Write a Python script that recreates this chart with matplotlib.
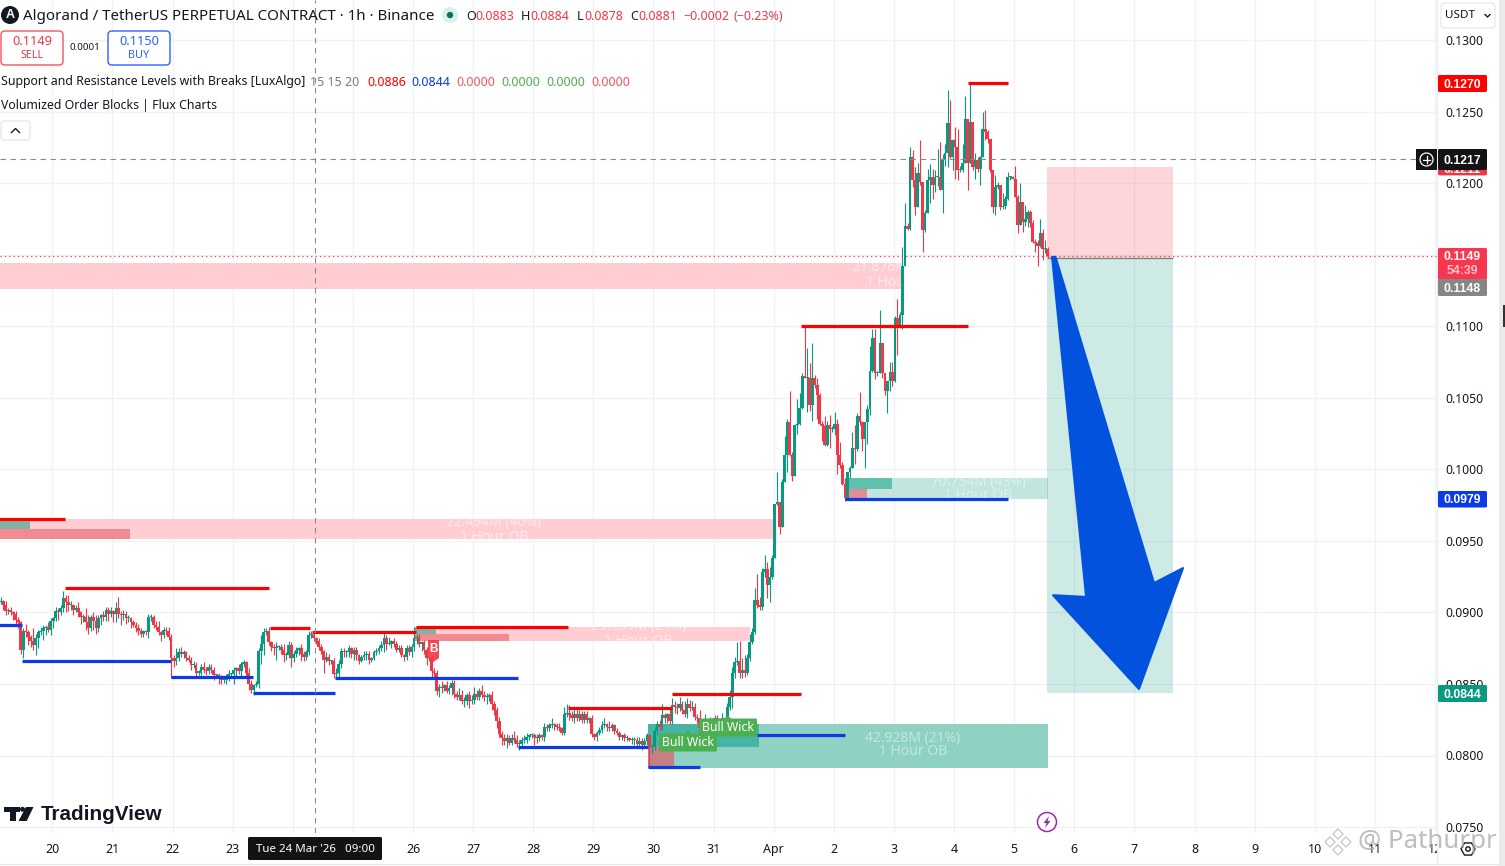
import numpy as np
import matplotlib
matplotlib.use("Agg")
import matplotlib.pyplot as plt
from matplotlib.patches import Rectangle, FancyBboxPatch, Circle, Polygon
from matplotlib.transforms import Bbox

plt.rcParams["font.family"] = ["Noto Sans", "DejaVu Sans"]

W, H = 1505, 866
GREEN = "#089981"
RED = "#f23645"
LINE_RED = "#ff0000"
LINE_BLUE = "#0a3be6"
GRID = "#f1f2f5"
TEXT = "#131722"

# ALGO/USDT 1h candles, prices in 0.0001 ticks, one line per day
closes = [
    907,908,905,901,902,900,899,895,893,874,887,886,883,880,877,882,886,887,889,890,888,
    894,896,901,900,903,910,907,905,905,902,903,900,897,897,893,889,897,894,889,896,898,897,902,899,
    901,899,903,899,898,899,896,896,893,891,889,887,885,887,886,897,897,891,890,886,884,888,887,883,
    868,866,868,872,871,872,868,867,863,863,858,858,862,860,859,862,860,856,856,855,853,853,855,857,
    857,860,861,859,864,865,858,850,846,849,850,873,878,886,887,879,876,875,876,876,874,870,870,877,
    868,871,874,875,871,869,872,884,884,882,880,876,873,867,869,866,866,857,858,864,873,872,872,875,
    871,874,870,866,869,870,871,867,868,872,873,875,877,882,878,878,880,878,874,875,870,869,875,872,
    876,882,883,878,879,874,868,868,859,858,845,848,847,849,845,847,851,843,841,842,838,838,842,838,
    839,843,841,845,842,841,841,842,836,832,824,815,812,810,812,809,812,811,808,808,811,811,813,814,
    814,813,812,814,813,820,819,821,822,821,820,819,816,829,830,828,826,829,826,829,825,829,825,826,
    815,813,816,818,821,822,820,819,821,817,816,813,814,812,812,811,811,811,808,810,807,810,814,806,
    806,817,822,820,828,826,829,824,835,834,833,836,832,829,836,833,834,827,826,819,817,822,819,824,
    820,826,824,820,826,825,834,841,858,865,866,858,860,858,868,879,886,909,905,904,928,930,919,925,
    938,976,977,960,991,1010,1033,1010,995,1031,1032,1043,1065,1064,1064,1045,1064,1059,1052,1032,1030,1017,1031,1028,
    1028,1032,1010,1003,990,980,998,1001,1015,1014,1037,1033,1021,1033,1042,1069,1092,1067,1067,1088,1067,1055,1062,1068,
    1062,1106,1100,1108,1142,1170,1168,1218,1202,1183,1207,1201,1167,1179,1202,1204,1199,1204,1204,1195,1217,1221,1242,1218,
    1230,1225,1209,1209,1214,1245,1214,1243,1211,1216,1210,1218,1238,1236,1231,1209,1183,1197,1199,1183,1184,1189,1204,1204,
    1203,1190,1171,1187,1173,1175,1180,1172,1159,1158,1156,1165,1154,1154,1149,
]
# wick lengths above and below the body, in ticks
wick_up = [
    2,3,1,3,1,2,1,2,2,1,2,5,2,1,9,3,2,3,2,1,3,
    2,1,3,2,2,5,2,5,3,1,2,4,1,2,6,5,1,3,4,2,1,3,2,2,
    3,1,4,8,2,3,2,2,1,2,2,3,2,1,1,2,2,1,3,4,1,2,2,3,
    2,2,7,3,4,2,1,2,2,3,2,2,2,3,2,2,2,2,1,2,1,2,2,3,
    1,2,1,3,1,2,1,3,3,1,2,2,6,3,2,3,1,2,3,1,2,4,2,3,
    2,2,2,1,3,2,2,3,3,2,1,2,2,1,3,2,1,2,3,3,2,2,2,2,
    1,2,2,1,1,3,2,2,1,2,2,2,3,4,2,5,1,2,2,2,2,1,2,2,
    2,8,2,2,1,2,2,1,2,2,2,2,4,1,3,2,2,2,2,5,4,3,2,3,
    3,5,3,2,4,3,3,2,3,2,2,3,2,3,3,2,3,5,3,3,2,3,3,1,
    2,2,2,2,1,3,2,2,4,1,2,3,1,5,6,5,3,4,4,3,2,2,2,1,
    2,1,1,2,3,4,1,4,2,1,2,1,1,2,2,1,2,2,2,3,2,2,2,1,
    2,3,2,3,8,2,1,4,5,3,3,5,2,6,4,3,4,3,2,6,1,7,4,3,
    2,2,2,1,4,1,3,5,4,4,13,14,8,10,3,6,3,8,18,6,3,10,5,7,
    2,0,21,0,2,13,2,22,2,1,17,10,2,35,21,10,24,2,5,1,2,7,3,7,
    2,8,3,9,2,4,0,1,11,16,2,17,1,0,3,17,6,6,2,23,0,0,0,7,
    7,1,13,2,13,16,2,7,5,9,7,23,0,2,8,9,6,5,20,25,3,6,23,16,
    1,9,13,3,13,16,0,27,0,5,2,1,12,13,1,0,0,9,2,0,9,2,4,1,
    1,9,2,13,0,10,1,1,2,2,2,10,3,6,1,
]
wick_dn = [
    2,1,3,3,2,2,4,4,4,3,6,3,6,4,3,7,7,2,6,5,2,
    4,5,2,5,2,3,7,4,3,4,2,3,5,4,5,4,2,6,4,3,5,3,3,5,
    2,6,6,3,7,3,4,3,4,1,3,3,2,2,2,4,3,2,2,2,4,2,3,2,
    14,4,3,2,2,3,2,2,3,2,3,2,2,2,3,2,2,3,2,5,3,2,3,3,
    3,7,5,2,4,2,3,4,2,4,1,3,9,8,2,2,3,5,8,2,3,5,3,2,
    6,3,2,4,5,3,2,2,2,2,2,2,2,9,2,3,2,3,2,4,3,3,3,3,
    3,4,3,2,1,2,3,3,2,1,2,2,2,5,4,1,3,2,2,2,1,3,2,2,
    3,3,4,2,5,3,5,2,5,3,3,4,3,2,1,2,5,3,2,2,2,4,3,5,
    2,3,2,2,2,3,5,3,4,4,5,2,5,3,5,2,2,2,2,4,2,2,2,2,
    2,6,3,2,2,3,2,2,2,3,2,2,2,2,2,3,2,3,2,2,2,2,2,2,
    2,2,3,2,2,2,3,2,2,2,2,2,2,2,2,1,3,4,2,3,3,2,3,14,
    4,2,3,3,2,3,3,2,2,4,4,2,3,2,3,2,1,2,3,2,4,2,6,3,
    6,2,2,3,3,2,5,2,8,4,2,4,4,3,2,2,1,1,2,2,2,3,9,12,
    2,0,1,5,0,0,12,1,3,0,6,1,1,0,24,4,11,2,17,1,10,1,1,13,
    2,4,13,2,1,2,1,4,0,10,1,2,8,20,15,4,1,4,2,0,3,3,16,7,
    4,1,20,1,10,0,1,1,5,5,0,2,15,1,0,16,10,5,6,0,16,5,10,1,
    9,22,7,1,1,0,19,0,2,8,2,11,0,6,3,1,4,5,1,2,1,2,1,2,
    0,0,6,0,7,3,6,3,1,6,14,1,8,3,1,
]
assert len(closes) == len(wick_up) == len(wick_dn), (len(closes), len(wick_up), len(wick_dn))
first_open = 909
last_hour = 397.4  # hours since 20 Mar 00:00

# levels from the S/R indicator: start hour, end hour, price
res_start = [-22, 5, 87, 103.5, 145, 206, 247.5, 299, 365.5]
res_end = [5, 86.6, 103, 145, 206, 247.5, 299, 365.5, 381.5]
res_price = [0.0965, 0.0917, 0.0889, 0.0886, 0.0890, 0.0833, 0.0843, 0.1100, 0.1270]
sup_start = [-22, -12, 47.5, 80, 113, 186, 238, 281.5, 316.5]
sup_end = [-12, 47.5, 80, 113, 186, 238, 258.5, 316.5, 381.5]
sup_price = [0.0891, 0.0866, 0.0855, 0.0844, 0.0854, 0.0806, 0.0792, 0.0814, 0.0979]

# order blocks
bear_start = [-22, -22, 144.8]
bear_end = [339, 287.7, 278.5]
bear_top = [0.1144, 0.0965, 0.0890]
bear_bottom = [0.1126, 0.09513, 0.0880]
bear_vol_text = ["21.876M (38%)", "22.494M (46%)", "29.459M (21%)"]
bear_text_hour = [338.4, 176.3, 234]
bear_text_price = [0.1141, 0.0963, 0.0890]
bear_red_end = [339, 31, 182.3]
bear_green_end = [339, -9, 153]
bear_split = [0.1135, 0.0958, 0.0885]

bull_start = [316.8, 237.8]
bull_end = [397.5, 397.5]
bull_top = [0.0994, 0.0822]
bull_bottom = [0.0979, 0.0791]
bull_split = [0.0986, 0.0806]
bull_green_end = [335.2, 282]
bull_red_end = [325.2, 248]
bull_vol_text = ["70.754M (43%)", "42.928M (21%)"]
bull_text_hour = [369.6, 343.6]
bull_text_price = [0.0991, 0.0812]

# short position tool and hand drawn arrow
pos_start, pos_end = 397.2, 447.4
pos_stop, pos_entry, pos_target = 0.1211, 0.1148, 0.0844
arrow_hour = [399.1, 400.5, 439.8, 451.4, 433.8, 399.5, 412.7]
arrow_price = [0.11484, 0.11484, 0.09205, 0.0931, 0.08465, 0.0912, 0.09108]

cross_hour = 105
cross_price = 0.1217
last_price = 0.1149

day_hours = list(range(0, 553, 24))
day_labels = ["20", "21", "22", "23", "", "", "26", "27", "28", "29", "30", "31", "Apr",
              "2", "3", "4", "5", "6", "7", "8", "9", "10", "11", "12"]
price_ticks = [0.075, 0.08, 0.085, 0.09, 0.095, 0.10, 0.105, 0.11, 0.115, 0.12, 0.125, 0.13]
price_labels = ["0.0750", "0.0800", "0.0850", "0.0900", "0.0950", "0.1000", "0.1050",
                "0.1100", "", "0.1200", "0.1250", "0.1300"]

fig = plt.figure(figsize=(W / 100, H / 100), dpi=100, facecolor="white")
ax = fig.add_axes([0, 1 - 833 / H, 1437 / W, 833 / H])
ax.set_xlim(-52.3 / 2.505, (1437 - 52.3) / 2.505)
ax.set_ylim(0.13 - 793 / 14310, 0.13 + 40 / 14310)
for s in ax.spines.values():
    s.set_visible(False)
ax.set_xticks(day_hours)
ax.set_xticklabels(day_labels, fontsize=9, color=TEXT)
ax.yaxis.tick_right()
ax.set_yticks(price_ticks)
ax.set_yticklabels(price_labels, fontsize=8.8, color=TEXT)
ax.tick_params(axis="x", length=0, pad=7)
ax.tick_params(axis="y", length=0, pad=6)
ax.grid(True, color=GRID, lw=1.0)
ax.set_axisbelow(True)

# the 12 label is cut off by the price scale in the reference
clip = Bbox([[0, 0], [1437, H]])
ax.get_xticklabels()[-1].set_clip_box(clip)
ax.get_xticklabels()[-1].set_clip_on(True)

# order blocks
for i in range(len(bear_start)):
    ax.add_patch(Rectangle((bear_start[i], bear_bottom[i]), bear_end[i] - bear_start[i],
                           bear_top[i] - bear_bottom[i], fc="#ffcdd2", ec="none", zorder=1))
    if i > 0:
        ax.add_patch(Rectangle((bear_start[i], bear_bottom[i]), bear_red_end[i] - bear_start[i],
                               bear_split[i] - bear_bottom[i], fc="#f28b91", ec="none", zorder=1.1))
        ax.add_patch(Rectangle((bear_start[i], bear_split[i]), bear_green_end[i] - bear_start[i],
                               bear_top[i] - bear_split[i], fc="#7fb3a6", ec="none", zorder=1.1))
    ax.text(bear_text_hour[i], bear_text_price[i], bear_vol_text[i], color="white", alpha=0.6,
            fontsize=10, ha="center", va="center", zorder=1.2, clip_on=True)
    ax.text(bear_text_hour[i], bear_text_price[i] - 0.00105, "1 Hour OB", color="white", alpha=0.6,
            fontsize=10, ha="center", va="center", zorder=1.2, clip_on=True)
bull_light = ["#c2e6df", "#8fd2c4"]
for i in range(len(bull_start)):
    ax.add_patch(Rectangle((bull_start[i], bull_bottom[i]), bull_end[i] - bull_start[i],
                           bull_top[i] - bull_bottom[i], fc=bull_light[i], ec="none", zorder=1))
    ax.add_patch(Rectangle((bull_start[i], bull_split[i]), bull_green_end[i] - bull_start[i],
                           bull_top[i] - bull_split[i], fc="#5fc0ae" if i == 0 else "#48b4a4",
                           ec="none", zorder=1.1))
    ax.add_patch(Rectangle((bull_start[i], bull_bottom[i]), bull_red_end[i] - bull_start[i],
                           bull_split[i] - bull_bottom[i], fc="#de8f94" if i == 0 else "#c48084",
                           ec="none", zorder=1.1))
    ax.text(bull_text_hour[i], bull_text_price[i], bull_vol_text[i], color="white", alpha=0.45,
            fontsize=10, ha="center", va="center", zorder=1.2)
    ax.text(bull_text_hour[i], bull_text_price[i] - 0.00095, "1 Hour OB", color="white", alpha=0.45,
            fontsize=10, ha="center", va="center", zorder=1.2)

# candles
n = len(closes)
hours = last_hour - (n - 1) + np.arange(n)
c = np.array(closes) / 1e4
o = np.r_[first_open / 1e4, c[:-1]]
hi = np.maximum(o, c) + np.array(wick_up) / 1e4
lo = np.minimum(o, c) - np.array(wick_dn) / 1e4
colors = np.where(c >= o, GREEN, RED)
ax.vlines(hours, lo, hi, colors=colors, lw=0.8, zorder=3)
ax.bar(hours, np.maximum(np.abs(c - o), 0.00008), bottom=np.minimum(o, c), width=1.1,
       color=colors, lw=0, zorder=3.1)

# levels
ax.hlines(res_price, res_start, res_end, colors=LINE_RED, lw=2.3, zorder=4)
ax.hlines(sup_price, sup_start, sup_end, colors=LINE_BLUE, lw=2.3, zorder=4)

# crosshair and last price line
ax.axvline(cross_hour, color="#8a8c94", lw=0.8, ls=(0, (5, 4)), zorder=5)
ax.axhline(cross_price, color="#8a8c94", lw=0.8, ls=(0, (5, 4)), zorder=5)
ax.axhline(last_price, color=RED, lw=0.9, ls=(0, (1, 2.5)), zorder=5)

# position tool
ax.add_patch(Rectangle((pos_start, pos_entry), pos_end - pos_start, pos_stop - pos_entry,
                       fc=RED, alpha=0.2, ec="none", zorder=2))
ax.add_patch(Rectangle((pos_start, pos_target), pos_end - pos_start, pos_entry - pos_target,
                       fc=GREEN, alpha=0.2, ec="none", zorder=2))
ax.hlines(pos_entry, pos_start, pos_end, colors="#787b86", lw=0.9, zorder=2.5)
ax.add_patch(Polygon(np.column_stack([arrow_hour, arrow_price]), closed=True, fc="#0352de",
                     ec="#0352de", lw=1.5, joinstyle="round", zorder=6))

# everything below is the TradingView chrome, laid out in screen pixels
ui = fig.add_axes([0, 0, 1, 1], facecolor="none")
ui.set_xlim(0, W)
ui.set_ylim(H, 0)
ui.axis("off")


def label(x, y, s, color=TEXT, size=9.0, ha="left", weight="normal", **kw):
    if weight == "bold":
        return ui.text(x, y + 1, s, color=color, fontsize=size, ha=ha, va="center", fontweight="bold",
                       family=["Liberation Sans", "DejaVu Sans"], **kw)
    return ui.text(x, y + 1, s, color=color, fontsize=size, ha=ha, va="center", **kw)


def box(x0, y0, x1, y1, fc, ec="none", lw=0.0, z=2, rad=1.5):
    ui.add_patch(FancyBboxPatch((x0 + rad, y0 + rad), x1 - x0 - 2 * rad, y1 - y0 - 2 * rad,
                                boxstyle=f"round,pad={rad},rounding_size={rad}",
                                fc=fc, ec=ec, lw=lw, zorder=z))


def py(price):
    return 40 + (0.13 - price) * 14310


# axes furniture
ui.plot([1436.5, 1436.5], [0, 863], color="#e9ecf1", lw=1, zorder=1)
ui.plot([0, 1499], [863.5, 863.5], color="#e4e6ea", lw=1, zorder=1)
ui.add_patch(Rectangle((1499, 0), 6, H, fc="#ebebeb", ec="none", zorder=1))
ui.add_patch(Rectangle((1503, 305), 2, 22, fc="#333333", ec="none", zorder=2))

# price labels
box(1438, py(0.1211) - 8, 1487, py(0.1211) + 8, RED)
label(1462.5, 169, "0.1211", "white", 8.8, "center", "bold", zorder=2)
box(1438, 149, 1487, 170, "#131313", z=3)
label(1462.5, 159.5, "0.1217", "white", 8.8, "center", "bold", zorder=4)
box(1438, 75, 1487, 92, LINE_RED)
label(1462.5, 83.5, "0.1270", "white", 8.8, "center", "bold", zorder=3)
box(1438, 248, 1487, 280, "#f7374f")
label(1462.5, 256.5, "0.1149", "white", 8.8, "center", "bold", zorder=3)
label(1462.5, 270.5, "54:39", "#ffc4cb", 8.8, "center", "bold", zorder=3)
box(1438, 279, 1487, 296, "#868686", z=3)
label(1462.5, 287.5, "0.1148", "white", 8.8, "center", "bold", zorder=4)
box(1438, 491, 1487, 507.5, LINE_BLUE)
label(1462.5, 499, "0.0979", "white", 8.8, "center", "bold", zorder=3)
box(1438, 685, 1487, 702, GREEN)
label(1462.5, 693.5, "0.0844", "white", 8.8, "center", "bold", zorder=3)

# crosshair plus button
ui.add_patch(Rectangle((1416, 149), 21, 21, fc="#131313", ec="none", zorder=3))
ui.add_patch(Circle((1426.5, 159.5), 6.5, fc="none", ec="white", lw=0.9, zorder=4))
ui.plot([1423, 1430], [159.5, 159.5], color="white", lw=0.9, zorder=4)
ui.plot([1426.5, 1426.5], [156, 163], color="white", lw=0.9, zorder=4)

# currency button
box(1441, 3, 1495, 28, "white", "#e4e6ea", 0.8, rad=4)
label(1445, 15, "USDT", "#131722", 8.4, zorder=3)
ui.plot([1485, 1487.5, 1490], [14.5, 17, 14.5], color=TEXT, lw=1, zorder=3)

# header
ui.add_patch(Circle((10, 15), 9, fc="#131722", ec="none", zorder=2))
label(10, 14.5, "A", "white", 9, "center", "bold", zorder=3)
label(23, 15, "Algorand / TetherUS PERPETUAL CONTRACT · 1h · Binance", TEXT, 10.9)
ui.add_patch(Circle((450, 15), 8, fc="#d9f0ec", ec="none", zorder=2))
ui.add_patch(Circle((450, 15), 3.2, fc="#0b6f60", ec="none", zorder=3))
for lx, ltxt, vx, vtxt in [(466, "O", 475, "0.0883"), (521, "H", 530, "0.0884"),
                           (577, "L", 584, "0.0878"), (630, "C", 638, "0.0881")]:
    label(lx, 15, ltxt, TEXT, 9)
    label(vx, 15, vtxt, RED, 9)
label(683, 15, "−0.0002", RED, 9)
label(733, 15, "(−0.23%)", RED, 9)

# sell and buy buttons
box(1, 31, 63, 65, "white", "#f7525f", 1.0, rad=4)
label(32, 40.5, "0.1149", RED, 9.2, "center", zorder=3)
label(32, 54.5, "SELL", RED, 7.8, "center", zorder=3)
label(85, 46.5, "0.0001", TEXT, 7.0, "center")
box(108, 31, 170, 65, "white", "#2962ff", 1.0, rad=4)
label(139, 40.5, "0.1150", "#2962ff", 9.2, "center", zorder=3)
label(139, 54.5, "BUY", "#2962ff", 7.8, "center", zorder=3)

# indicator legend
label(1, 81, "Support and Resistance Levels with Breaks [LuxAlgo]", TEXT, 8.85)
label(310, 81, "15 15 20", "#787b86", 9.0)
for vx, vtxt, vcol in [(367, "0.0886", LINE_RED), (411, "0.0844", LINE_BLUE), (456, "0.0000", "#f7525f"),
                       (501, "0.0000", "#4caf50"), (546, "0.0000", "#4caf50"), (591, "0.0000", "#f7525f")]:
    label(vx, 81, vtxt, vcol, 9.0)
label(1, 105, "Volumized Order Blocks | Flux Charts", TEXT, 8.85)
box(1, 121, 30, 140, "white", "#e0e3eb", 0.8, rad=3)
ui.plot([11.5, 15.5, 19.5], [132.5, 128.5, 132.5], color=TEXT, lw=1, zorder=3)

# signal labels
ui.add_patch(Polygon([[428, 640], [439, 640], [439, 658], [433.5, 662], [428, 658]], fc=RED, ec="none",
                     alpha=0.9, zorder=3))
label(433.5, 648, "B", "white", 8.5, "center", "bold", zorder=4)
for cx, cy in [(728, 727.5), (688, 742.5)]:
    ui.add_patch(Polygon([[cx - 4, cy - 8], [cx, cy - 12], [cx + 4, cy - 8]], fc="#4caf50", ec="none", zorder=3))
    box(cx - 29, cy - 9, cx + 29, cy + 9, "#4caf50", z=3)
    label(cx, cy - 1, "Bull Wick", "white", 8.8, "center", zorder=4)

# watermark logo
ui.add_patch(Rectangle((4, 807), 16, 4.5, fc="#131722", ec="none"))
ui.add_patch(Rectangle((9.5, 811), 6.5, 10, fc="#131722", ec="none"))
ui.add_patch(Circle((22.5, 809.3), 2.5, fc="#131722", ec="none"))
ui.add_patch(Polygon([[26, 807], [33.5, 807], [26.7, 821], [18.5, 821]], fc="#131722", ec="none"))
label(41, 813, "TradingView", "#131722", 14.9, weight="bold")

# crosshair time label
box(248, 837, 382, 860, "#131313", z=3)
label(315, 849, "Tue 24 Mar '26   09:00", "white", 8.3, "center", zorder=4)

# bolt and settings icons
ui.add_patch(Circle((1047, 822), 9.5, fc="white", ec="#9c27b0", lw=1.1, zorder=3))
ui.add_patch(Polygon([[1049, 816], [1043.5, 823], [1046.5, 823], [1045, 828], [1050.5, 821], [1047.5, 821]],
                     fc="#9c27b0", ec="none", zorder=4))
hx = 1468 + 7 * np.cos(np.arange(6) * np.pi / 3)
hy = 849 + 7 * np.sin(np.arange(6) * np.pi / 3)
ui.add_patch(Polygon(np.column_stack([hx, hy]), fc="white", ec=TEXT, lw=1.0, zorder=3))
ui.add_patch(Circle((1468, 849), 2.2, fc="white", ec=TEXT, lw=1.0, zorder=4))

# author watermark, bottom right
for dx, dy in [(0, -8), (-8, 0), (8, 0), (0, 8)]:
    ui.add_patch(Polygon([[1338 + dx - 5, 842 + dy], [1338 + dx, 842 + dy - 5],
                          [1338 + dx + 5, 842 + dy], [1338 + dx, 842 + dy + 5]],
                         fc="none", ec="#c8c8c8", lw=1.0, zorder=5))
label(1358, 841, "@ Pathurpr", "#a8a8a8", 18.6, alpha=0.75, zorder=5)

fig.savefig("out.png", dpi=100, facecolor="white")
